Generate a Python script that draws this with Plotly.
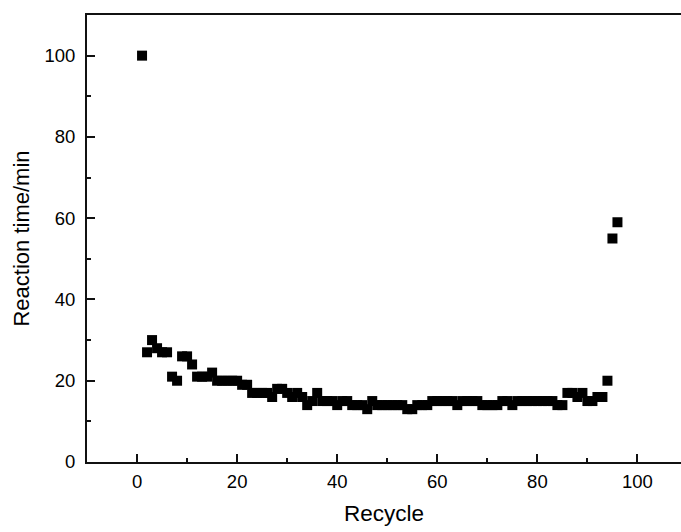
import plotly.graph_objects as go

recycle = list(range(1, 97))
reaction_time = [
    100, 27, 30, 28, 27, 27, 21, 20, 26, 26,
    24, 21, 21, 21, 22, 20, 20, 20, 20, 20,
    19, 19, 17, 17, 17, 17, 16, 18, 18, 17,
    16, 17, 16, 14, 15, 17, 15, 15, 15, 14,
    15, 15, 14, 14, 14, 13, 15, 14, 14, 14,
    14, 14, 14, 13, 13, 14, 14, 14, 15, 15,
    15, 15, 15, 14, 15, 15, 15, 15, 14, 14,
    14, 14, 15, 15, 14, 15, 15, 15, 15, 15,
    15, 15, 15, 14, 14, 17, 17, 16, 17, 15,
    15, 16, 16, 20, 55, 59,
]
x_ticks = [0, 20, 40, 60, 80, 100]
y_ticks = [0, 20, 40, 60, 80, 100]

fig = go.Figure(go.Scatter(
    x=recycle, y=reaction_time, mode="markers",
    marker=dict(symbol="square", size=10, color="black", line=dict(width=0)),
))

font = "Liberation Sans, Arial, sans-serif"
fig.update_layout(
    width=681, height=532,
    margin=dict(l=87, r=0, t=15, b=70),
    paper_bgcolor="white", plot_bgcolor="white",
    showlegend=False,
    font=dict(family=font, color="black", size=18),
)
fig.update_xaxes(
    range=[-10, 108.7], tickvals=x_ticks, ticks="inside", ticklen=8, tickwidth=2,
    tickcolor="#111", showline=True, linecolor="#111", linewidth=2, mirror=True,
    showgrid=False, zeroline=False, tickfont=dict(size=18.5, family=font, color="black"),
    ticklabelstandoff=2, automargin=False,
    minor=dict(ticks="inside", ticklen=4, tickwidth=2, tickcolor="#111", dtick=10, tick0=0, showgrid=False),
    title=dict(text="Recycle", font=dict(size=22.5, family=font), standoff=14),
)
fig.update_yaxes(
    range=[0, 110], tickvals=y_ticks, ticks="inside", ticklen=8, tickwidth=2,
    tickcolor="#111", showline=True, linecolor="#111", linewidth=2, mirror=False,
    showgrid=False, zeroline=False, tickfont=dict(size=18.5, family=font, color="black"),
    ticklabelstandoff=6, automargin=False,
    minor=dict(ticks="inside", ticklen=4, tickwidth=2, tickcolor="#111", dtick=10, tick0=0, showgrid=False),
    title=dict(text="Reaction time/min", font=dict(size=22, family=font), standoff=9),
)
fig.write_html("out.html", config={"displayModeBar": False})

with open("out.html", encoding="utf-8") as f:
    html = f.read()
html = html.replace("<head>", "<head><style>html,body{margin:0;padding:0;overflow:hidden;}</style>", 1)
with open("out.html", "w", encoding="utf-8") as f:
    f.write(html)
